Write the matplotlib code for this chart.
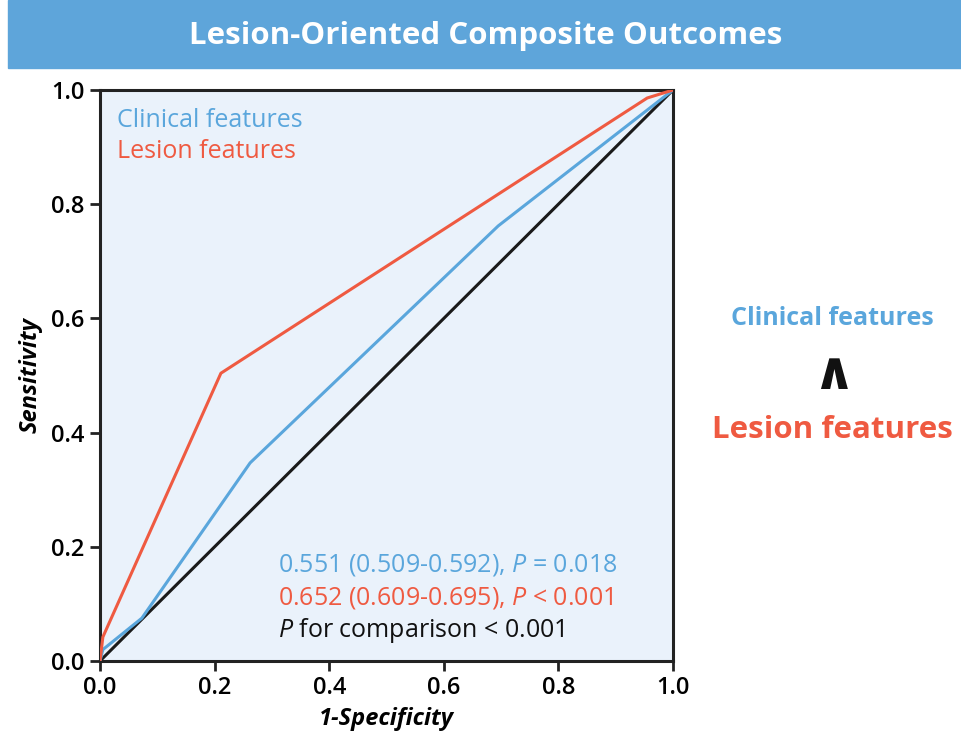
import numpy as np
import matplotlib
matplotlib.use("Agg")
import matplotlib.pyplot as plt
import matplotlib.patches as mpatches

# ─── data ────────────────────────────────────────────────────────────────────
clin_fpr = [0.0, 0.005, 0.073, 0.262, 0.695, 1.0]
clin_tpr = [0.0, 0.020, 0.075, 0.347, 0.762, 1.0]
les_fpr = [0.0, 0.005, 0.211, 0.955, 1.0]
les_tpr = [0.0, 0.042, 0.504, 0.986, 1.0]

ticks = [0.0, 0.2, 0.4, 0.6, 0.8, 1.0]
stat_lines = ["0.551 (0.509-0.592), $\\it{P}$ = 0.018",
              "0.652 (0.609-0.695), $\\it{P}$ < 0.001",
              "$\\it{P}$ for comparison < 0.001"]

BLUE = "#5aa6dc"
RED = "#ef5a41"
BG = "#eaf2fb"

plt.rcParams['font.family'] = ['Open Sans', 'DejaVu Sans']
plt.rcParams['mathtext.fontset'] = 'custom'
plt.rcParams['mathtext.it'] = 'Open Sans:italic'

fig = plt.figure(figsize=(9.62, 7.44), dpi=100)

# title banner
fig.patches.append(mpatches.Rectangle((8 / 962, 1 - 68 / 744), 954 / 962, 68 / 744,
                                      transform=fig.transFigure, color="#5ea5da", zorder=0))
fig.text(486 / 962, 1 - 36 / 744, "Lesion-Oriented Composite Outcomes", color="white",
         fontsize=22.5, fontweight="bold", ha="center", va="center")

ax = fig.add_axes([100 / 962, 1 - 661 / 744, 573 / 962, 571 / 744])
ax.set_facecolor(BG)
ax.plot([0, 1], [0, 1], color="#1a1a1a", lw=2.2, zorder=2)
ax.plot(clin_fpr, clin_tpr, color=BLUE, lw=2.2, zorder=3)
ax.plot(les_fpr, les_tpr, color=RED, lw=2.2, zorder=3)
ax.set_xlim(0, 1)
ax.set_ylim(0, 1)
ax.set_xticks(ticks)
ax.set_yticks(ticks)
ax.set_xticklabels([f"{t:.1f}" for t in ticks])
ax.set_yticklabels([f"{t:.1f}" for t in ticks])
ax.tick_params(labelsize=17, width=2, length=7, color="#222222", pad=4)
for s in ax.spines.values():
    s.set_linewidth(2.2)
    s.set_color("#222222")
for lab in ax.get_xticklabels() + ax.get_yticklabels():
    lab.set_fontweight("semibold")

ax.set_xlabel("1-Specificity", fontsize=17, fontweight="bold", style="italic", labelpad=5)
ax.set_ylabel("Sensitivity", fontsize=17, fontweight="bold", style="italic", labelpad=6)

ax.text(0.03, 0.947, "Clinical features", color=BLUE, fontsize=18,
        transform=ax.transAxes, va="center")
ax.text(0.03, 0.893, "Lesion features", color=RED, fontsize=18,
        transform=ax.transAxes, va="center")

for i, (txt, c) in enumerate(zip(stat_lines, [BLUE, RED, "#111111"])):
    ax.text(0.31, 0.168 - i * 0.057, txt, color=c, fontsize=18,
            transform=ax.transAxes, va="center")

# right-side comparison
fig.text(832 / 962, 1 - 318 / 744, "Clinical features", color=BLUE, fontsize=18,
         fontweight="bold", ha="center", va="center")
fig.text(833 / 962, 1 - 374 / 744, "\u2227", color="#111111", fontsize=38,
         fontweight="bold", ha="center", va="center", family="DejaVu Sans")
fig.text(832 / 962, 1 - 430 / 744, "Lesion features", color=RED, fontsize=22.5,
         fontweight="bold", ha="center", va="center")

fig.savefig("out.png", dpi=100)
